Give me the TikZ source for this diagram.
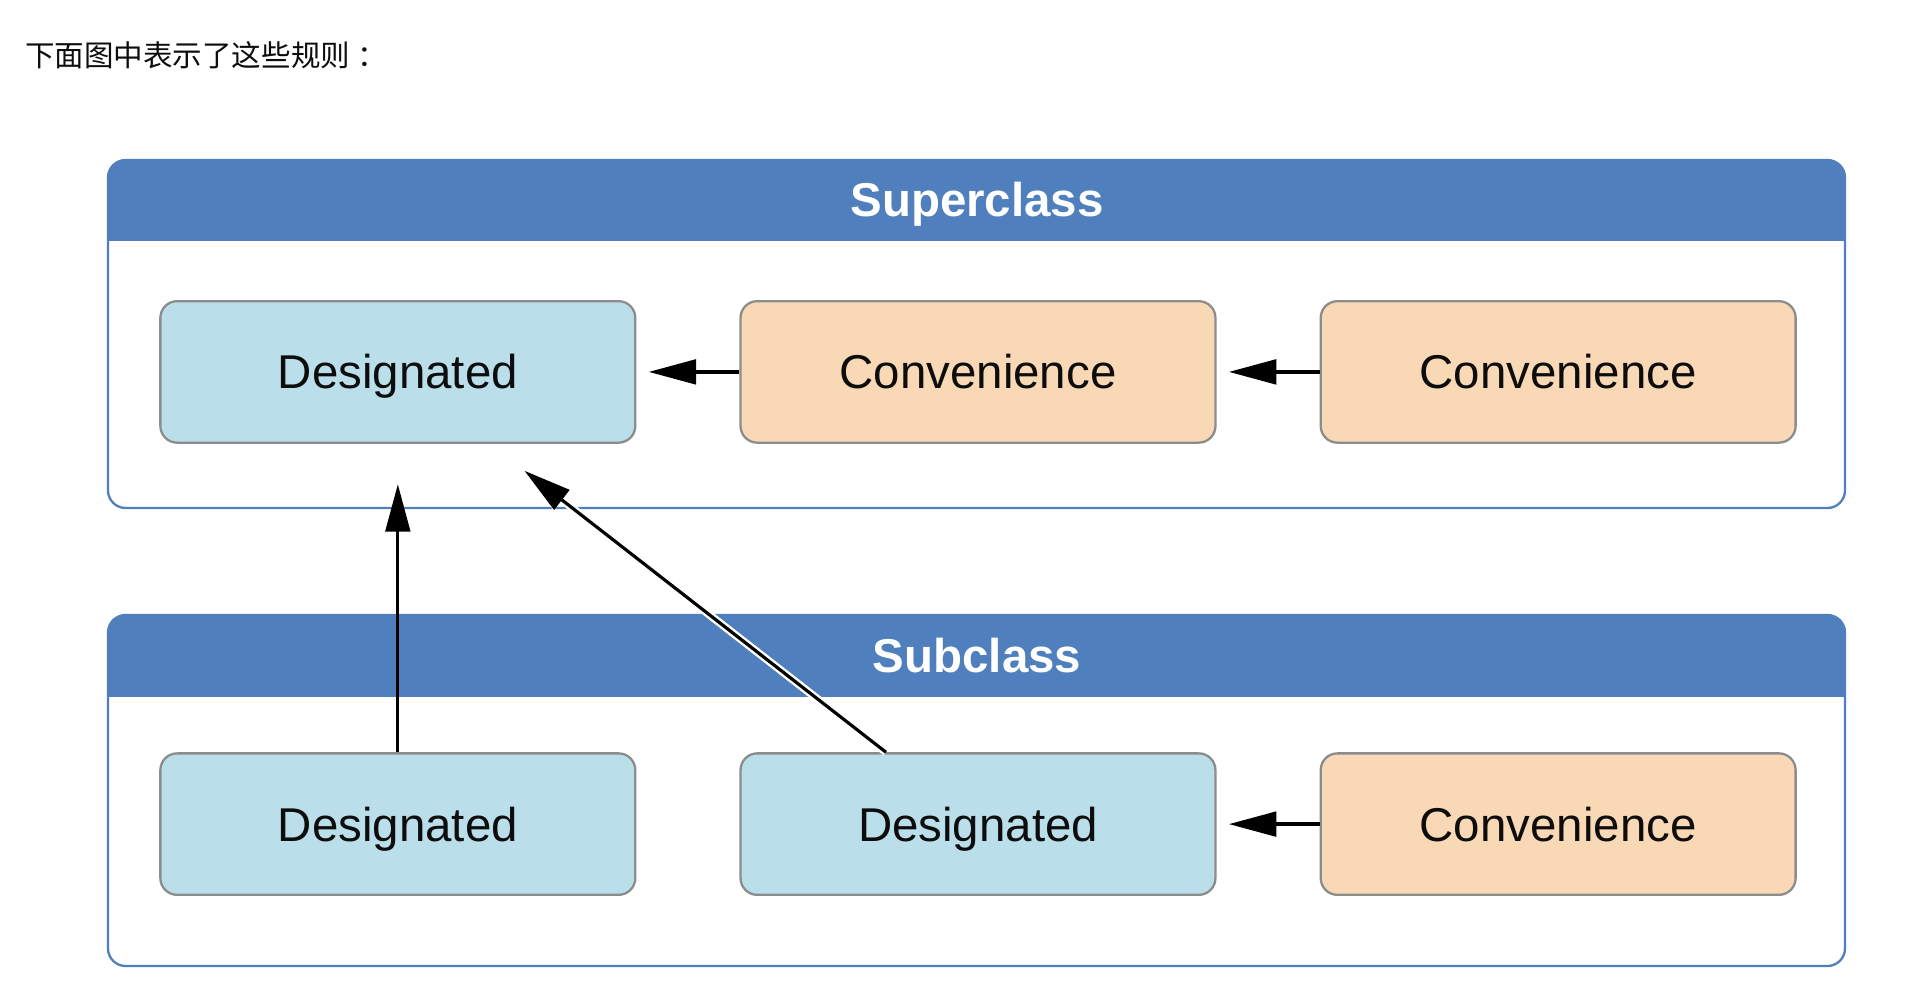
\documentclass[tikz,border=0pt]{standalone}
\usepackage{fontspec}
\setmainfont{Liberation Sans}
\newfontfamily\cjk{Noto Sans CJK SC}
\usetikzlibrary{arrows.meta}
\definecolor{hdrblue}{HTML}{4F7FBC}
\definecolor{desblue}{HTML}{BADFEA}
\definecolor{convtan}{HTML}{F9D8B6}
\definecolor{boxgray}{HTML}{8C8C8C}

\begin{document}
\begin{tikzpicture}[x=0.02cm,y=0.02cm,>={Triangle[length=27pt,width=14pt]},
  box/.style={draw=boxgray,line width=1.3pt,rounded corners=9.5pt,
    minimum width=9.5cm,minimum height=2.83cm,inner sep=0pt,
    text height=19.3pt,text depth=0pt,font=\fontsize{27}{32}\selectfont,text=black!95},
  des/.style={box,fill=desblue},
  conv/.style={box,fill=convtan},
  hdrtext/.style={text=white,text height=19.3pt,text depth=0pt,
    font=\bfseries\fontsize{27}{32}\selectfont}]
  \useasboundingbox (0,0) rectangle (1916,-990);
  \node[anchor=west,inner sep=0pt,font=\fontsize{16.8}{20}\selectfont,text=black!95] (title) at (25,-55) {\cjk 下面图中表示了这些规则\hspace{4pt}：};
  % class frames
  \foreach \top/\bot/\hdr in {-160/-508/-241, -615/-966/-697} {
    \begin{scope}
      \clip[rounded corners=10pt] (108,\top) rectangle (1845,\bot);
      \fill[white] (108,\top) rectangle (1845,\bot);
      \fill[hdrblue] (108,\top) rectangle (1845,\hdr);
    \end{scope}
    \draw[hdrblue,line width=1.3pt,rounded corners=10pt] (108,\top) rectangle (1845,\bot);
  }
  \node[hdrtext] (supTitle) at (977,-200) {Superclass};
  \node[hdrtext] (subTitle) at (977,-656) {Subclass};
  \matrix [column sep=2.06cm,row sep=6.17cm] at (978,-598) {
    \node[des] (supDes) {Designated};
    & \node[conv] (supConv1) {Convenience};
    & \node[conv] (supConv2) {Convenience}; \\
    \node[des] (subDes1) {Designated};
    & \node[des] (subDes2) {Designated};
    & \node[conv] (subConv) {Convenience}; \\
  };
  \draw[->,line width=2pt,shorten >=7pt] (supConv1) edge (supDes);
  \draw[->,line width=2pt,shorten >=7pt] (supConv2) edge (supConv1);
  \draw[->,line width=2pt,shorten >=7pt] (subConv)  edge (subDes2);
  \draw[->,line width=1.8pt,shorten >=23pt] (subDes1) edge (supDes);
  \draw[->,line width=1.8pt,shorten >=25pt,preaction={draw=white,line width=4.5pt}] (subDes2) -- (supDes);
\end{tikzpicture}
\end{document}
